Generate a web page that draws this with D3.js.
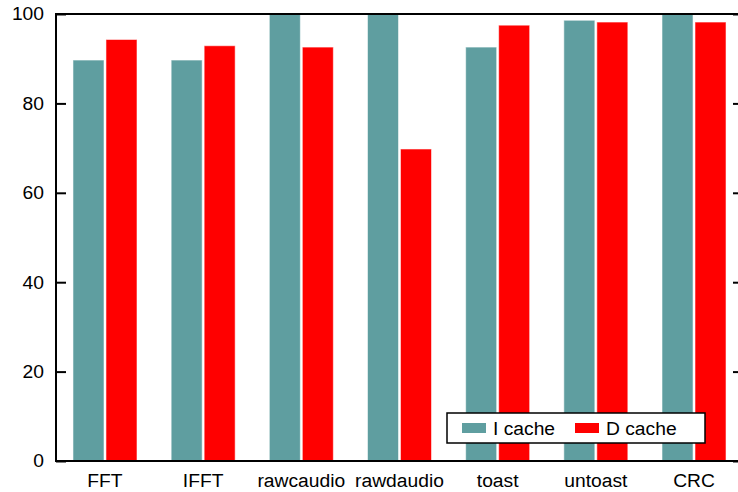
<!DOCTYPE html>
<html><head><meta charset="utf-8">
<script src="https://cdn.jsdelivr.net/npm/d3@7"></script>
<style>body{margin:0;background:#fff;} svg{display:block;}</style>
</head><body>
<script>
const categories = ["FFT","IFFT","rawcaudio","rawdaudio","toast","untoast","CRC"];
const seriesNames = ["I cache","D cache"];
const iCache = [89.7, 89.7, 100, 100, 92.6, 98.6, 100];
const dCache = [94.3, 92.9, 92.6, 69.8, 97.5, 98.2, 98.2];
const yTicks = [0,20,40,60,80,100];
const colors = ["#5F9EA0","#FF0000"];

const W = 738, H = 492;
const pLeft = 56, pRight = 743, pTop = 14, pBottom = 461;
const FONT = "Liberation Sans, Arial, sans-serif", FS = 18, SX = 1.07;
const svg = d3.select("body").append("svg").attr("width",W).attr("height",H);

const x = d3.scaleBand().domain(categories).range([pLeft,pRight]).paddingInner(0.348).paddingOuter(0.173);
const xs = d3.scaleBand().domain(seriesNames).range([0,x.bandwidth()]).paddingInner(0.06);
const y = d3.scaleLinear().domain([0,100]).range([pBottom,pTop]);

const series = [iCache, dCache];
const g = svg.append("g");
categories.forEach((c,i)=>{
  series.forEach((s,j)=>{
    g.append("rect")
      .attr("x", x(c)+xs(seriesNames[j]))
      .attr("y", y(s[i]))
      .attr("width", xs.bandwidth())
      .attr("height", y(0)-y(s[i]))
      .attr("fill", colors[j])
      .attr("stroke", "#fff").attr("stroke-opacity",0.55).attr("stroke-width",1);
  });
});

// frame
const fr = svg.append("g").attr("stroke","#000").attr("stroke-width",2).attr("fill","none");
fr.append("line").attr("x1",pLeft).attr("x2",pRight).attr("y1",pTop).attr("y2",pTop);
fr.append("line").attr("x1",pLeft).attr("x2",pRight).attr("y1",pBottom).attr("y2",pBottom);
fr.append("line").attr("x1",pLeft).attr("x2",pLeft).attr("y1",pTop-1).attr("y2",pBottom+1);
fr.append("line").attr("x1",pRight).attr("x2",pRight).attr("y1",pTop).attr("y2",pBottom);

// y axis ticks (inward, both sides)
const ya = svg.append("g").attr("transform",`translate(${pLeft},0)`).call(d3.axisRight(y).tickValues(yTicks).tickSize(10).tickFormat(""));
ya.select(".domain").remove();
ya.selectAll(".tick line").attr("stroke","#000").attr("stroke-width",2);
const yaR = svg.append("g").attr("transform",`translate(${pRight},0)`).call(d3.axisLeft(y).tickValues(yTicks).tickSize(10).tickFormat(""));
yaR.select(".domain").remove();
yaR.selectAll(".tick line").attr("stroke","#000").attr("stroke-width",2);

function txt(sel, tx, ty, anchor){
  return sel.attr("x",0).attr("y",0)
    .attr("transform",`translate(${tx},${ty}) scale(${SX},1)`)
    .attr("text-anchor",anchor)
    .attr("font-family",FONT).attr("font-size",FS).attr("fill","#000");
}

svg.append("g").selectAll("text").data(yTicks).join("text")
  .each(function(d){ txt(d3.select(this), 44, y(d)+6.3, "end"); })
  .text(d=>d);

// x labels
svg.append("g").selectAll("text").data(categories).join("text")
  .each(function(d){ txt(d3.select(this), x(d)+x.bandwidth()/2, 487, "middle"); })
  .text(d=>d);

// legend
const lg = svg.append("g");
lg.append("rect").attr("x",447).attr("y",413).attr("width",258).attr("height",30)
  .attr("fill","#fff").attr("stroke","#000").attr("stroke-width",1.5);
const lx = [462, 575];
seriesNames.forEach((n,j)=>{
  lg.append("rect").attr("x",lx[j]).attr("y",423).attr("width",24).attr("height",10).attr("fill",colors[j]);
  txt(lg.append("text"), lx[j]+31, 434.5, "start").text(n);
});
</script>
</body></html>
